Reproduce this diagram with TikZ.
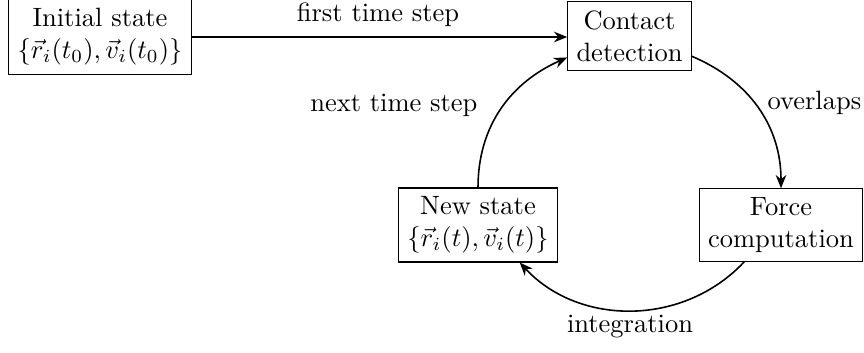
\documentclass[tikz,border=0pt]{standalone}
\usetikzlibrary{arrows.meta}
\begin{document}
\begin{tikzpicture}[x=0.3774pt,y=-0.3774pt,
  box/.style={draw, thin, align=center, inner sep=3.3pt, font=\normalsize},
  conn/.style={-{Stealth[length=5pt,width=4pt]}, semithick},
  lbl/.style={font=\normalsize, inner sep=0pt}]
\useasboundingbox (0,0) rectangle (864,352);
\node[box] (init) at (100,37) {Initial state\\$\{\vec{r}_i(t_0),\vec{v}_i(t_0)\}$};
\node[box] (contact) at (629.5,36) {Contact\\detection};
\node[box] (new) at (478,225) {New state\\$\{\vec{r}_i(t),\vec{v}_i(t)\}$};
\node[box] (force) at (781,225) {Force\\computation};
\draw[conn] (init.east |- 0,37) -- (contact.west |- 0,37);
\node[lbl] (l1) at (378,15) {first time step};
\draw[conn] (new.north) to[out=90,in=204] (contact.199);
\node[lbl,anchor=east] (l2) at (478,105) {next time step};
\draw[conn] (contact.-18) to[out=-23,in=90] (force.north);
\node[lbl,anchor=west] (l3) at (767,103) {overlaps};
\draw[conn] (force.-135) to[out=-133,in=-47] (new.-42);
\node[lbl] (l4) at (630,327) {integration};
\end{tikzpicture}
\end{document}
